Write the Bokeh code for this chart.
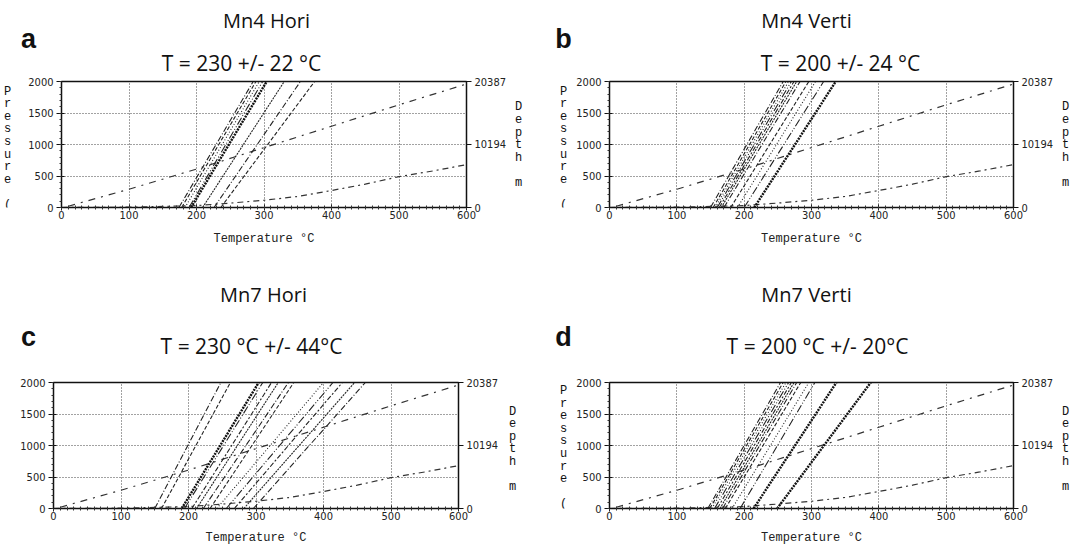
from bokeh.plotting import figure
from bokeh.models import Range1d, LinearAxis, FixedTicker, SingleIntervalTicker
from bokeh.layouts import column, row
from bokeh.embed import file_html
from bokeh.resources import INLINE
from bokeh.core.properties import value

# ---------------- data ----------------
temp_range = [0, 600]
pressure_range = [0, 2000]
depth_range = [0, 20387]
depth_ticks = [0, 10194, 20387]

# two reference gradient curves (same on every panel)
geo_hi_T = [10, 100, 200, 300, 400, 500, 600]
geo_hi_P = [20, 290, 610, 950, 1290, 1630, 1960]
geo_lo_T = [0, 100, 200, 250, 300, 350, 400, 450, 500, 550, 600]
geo_lo_P = [0, 5, 30, 70, 115, 175, 270, 370, 490, 580, 680]

# isochores: temperature at P = 0 bar and at P = 2000 bar
iso_P = [0, 2000]
a_T0 = [174, 178, 183, 189, 192, 209, 226, 236]
a_T2000 = [284, 288, 293, 298, 304, 330, 354, 375]
b_T0 = [150, 154, 157, 160, 163, 166, 170, 180, 190, 200, 215]
b_T2000 = [258, 262, 266, 270, 274, 278, 283, 296, 306, 318, 336]
c_T0 = [150, 160, 190, 194, 205, 212, 222, 232, 242, 256, 268, 282, 296]
c_T2000 = [248, 262, 304, 310, 323, 333, 348, 356, 400, 414, 428, 446, 462]
d_T0 = [146, 149, 152, 156, 160, 164, 168, 172, 182, 194, 214, 249]
d_T2000 = [254, 258, 262, 266, 270, 274, 278, 284, 296, 305, 337, 388]

titles = ["Mn4 Hori", "Mn4 Verti", "Mn7 Hori", "Mn7 Verti"]
letters = ["a", "b", "c", "d"]
subtitles = ["T = 230 +/- 22 \u00b0C", "T = 200 +/- 24 \u00b0C",
             "T = 230 \u00b0C +/- 44\u00b0C", "T = 200 \u00b0C +/- 20\u00b0C"]
x_label = "Temperature \u00b0C"
y_label = "P\nr\ne\ns\ns\nu\nr\ne\n\u00a0\n("
y2_label = "D\ne\np\nt\nh\n\u00a0\nm"

TICK_FONT = "Liberation Sans Narrow, DejaVu Sans Condensed, Liberation Sans"
TITLE_FONT = "Open Sans"
MONO = "Liberation Mono"

DASHES = ["6 2 1 2", "4 2", "1 2", "8 2 1 2 1 2", "5 2 2 2", "2 1"]


def text_fig(width, height, items):
    """Blank figure whose frame is the whole canvas; y measured from the top in px."""
    f = figure(width=width, height=height, output_backend="svg", toolbar_location=None,
               x_range=Range1d(0, width), y_range=Range1d(height, 0),
               x_axis_type=None, y_axis_type=None,
               min_border_left=0, min_border_right=0, min_border_top=0, min_border_bottom=0,
               background_fill_color="white", border_fill_color="white")
    f.outline_line_color = None
    f.grid.visible = False
    for (x, y, txt, font, size, bold, align, baseline, lh) in items:
        f.text(x=[x], y=[y], text=[txt], text_font=value(font), text_font_size=value(size),
               text_font_style="bold" if bold else "normal", text_align=align,
               text_baseline=baseline, text_color="#111111", text_line_height=lh)
    return f


def main_fig(width, height, bl, br, bt, bb, T0, T2000, thick, xlab_standoff):
    p = figure(width=width, height=height, output_backend="svg", toolbar_location=None,
               x_range=Range1d(*temp_range), y_range=Range1d(*pressure_range),
               min_border_left=bl, min_border_right=br, min_border_top=bt, min_border_bottom=bb,
               background_fill_color="white", border_fill_color="white")
    p.extra_y_ranges = {"depth": Range1d(*depth_range)}
    p.outline_line_color = "#111111"
    p.outline_line_width = 1.5

    p.xaxis.ticker = SingleIntervalTicker(interval=100, num_minor_ticks=10)
    p.yaxis.ticker = SingleIntervalTicker(interval=500, num_minor_ticks=5)
    for ax in (p.xaxis[0], p.yaxis[0]):
        ax.axis_line_color = "#111111"
        ax.major_tick_line_color = "#111111"
        ax.minor_tick_line_color = "#333333"
        ax.major_label_text_font = TICK_FONT
        ax.major_label_text_font_size = "11px"
        ax.major_label_text_color = "#222222"
    p.xaxis.major_tick_in = 3
    p.xaxis.major_tick_out = 3
    p.xaxis.minor_tick_in = 2
    p.xaxis.minor_tick_out = 2
    p.xaxis.major_label_standoff = 0
    p.xaxis.axis_label = x_label
    p.xaxis.axis_label_text_font = MONO
    p.xaxis.axis_label_text_font_size = "12px"
    p.xaxis.axis_label_text_font_style = "normal"
    p.xaxis.axis_label_text_color = "#222222"
    p.xaxis.axis_label_standoff = xlab_standoff
    p.yaxis.major_tick_in = 3
    p.yaxis.major_tick_out = 5
    p.yaxis.minor_tick_in = 0
    p.yaxis.minor_tick_out = 2
    p.yaxis.major_label_standoff = 3

    ax2 = LinearAxis(y_range_name="depth", ticker=FixedTicker(ticks=depth_ticks))
    ax2.axis_line_color = "#111111"
    ax2.major_tick_line_color = "#111111"
    ax2.major_tick_in = 0
    ax2.major_tick_out = 5
    ax2.minor_tick_line_color = None
    ax2.major_label_standoff = 3
    ax2.major_label_text_font = TICK_FONT
    ax2.major_label_text_font_size = "11px"
    ax2.major_label_text_color = "#222222"
    p.add_layout(ax2, "right")

    p.grid.grid_line_color = "#444444"
    p.grid.grid_line_dash = "1 2"
    p.grid.grid_line_width = 1

    # reference curves
    p.line(geo_hi_T, geo_hi_P, line_color="#333333", line_width=1.2, line_dash="7 6 2 6")
    p.line(geo_lo_T, geo_lo_P, line_color="#333333", line_width=1.2, line_dash="6 4 2 4")

    # isochores
    for i, (t0, t1) in enumerate(zip(T0, T2000)):
        if i in thick:
            p.line([t0, t1], iso_P, line_color="#111111", line_width=2.4, line_dash="2 1")
        else:
            p.line([t0, t1], iso_P, line_color="#222222", line_width=1.1,
                   line_dash=DASHES[i % len(DASHES)])
    return p


def block(width, head_h, head_items, strip_l, strip_r, main_args, letters_l, letters_r):
    main = main_fig(*main_args)
    mh = main_args[1]
    parts = []
    if strip_l:
        parts.append(text_fig(strip_l, mh, letters_l))
    parts.append(main)
    parts.append(text_fig(strip_r, mh, letters_r))
    head = text_fig(width, head_h, head_items)
    return column(head, row(*parts))


def heads(i, t_pos, l_pos, s_pos):
    return [(t_pos[0], t_pos[1], titles[i], TITLE_FONT, "20px", False, "center", "middle", 1.2),
            (l_pos[0], l_pos[1], letters[i], "Liberation Sans", "27px", True, "center", "middle", 1.2),
            (s_pos[0], s_pos[1], subtitles[i], TITLE_FONT, "21px", False, "center", "middle", 1.2)]


def stack(x, y, txt):
    return [(x, y, txt, MONO, "12px", False, "center", "top", 0.9)]


# row 1: header 75 + main 207 (top 6, frame 126, bottom 75)
blk_a = block(540, 75, heads(0, (266, 20), (28, 38), (241, 62)), 20, 30,
              (490, 207, 41, 44, 6, 75, a_T0, a_T2000, {4}, 10),
              stack(7, 5, y_label), stack(8, 31, y2_label))
blk_b = block(531, 75, heads(1, (266, 20), (23, 38), (300, 62)), 30, 16,
              (485, 207, 39, 41, 6, 75, b_T0, b_T2000, {10}, 10),
              stack(23, 5, y_label), stack(10, 31, y2_label))
# row 2: header 94 + main 171 (top 6, frame 126, bottom 39)
blk_c = block(540, 94, heads(2, (263, 12), (28, 54), (251, 63)), 0, 38,
              (502, 171, 53, 44, 6, 39, c_T0, c_T2000, {2}, 8),
              [], stack(10, 30, y2_label))
blk_d = block(531, 94, heads(3, (266, 12), (23, 54), (277, 63)), 30, 16,
              (485, 171, 39, 41, 6, 39, d_T0, d_T2000, {10, 11}, 8),
              stack(23, 2, y_label), stack(10, 30, y2_label))

layout = column(row(blk_a, blk_b), row(blk_c, blk_d))
open("out.html", "w").write(file_html(layout, INLINE))
